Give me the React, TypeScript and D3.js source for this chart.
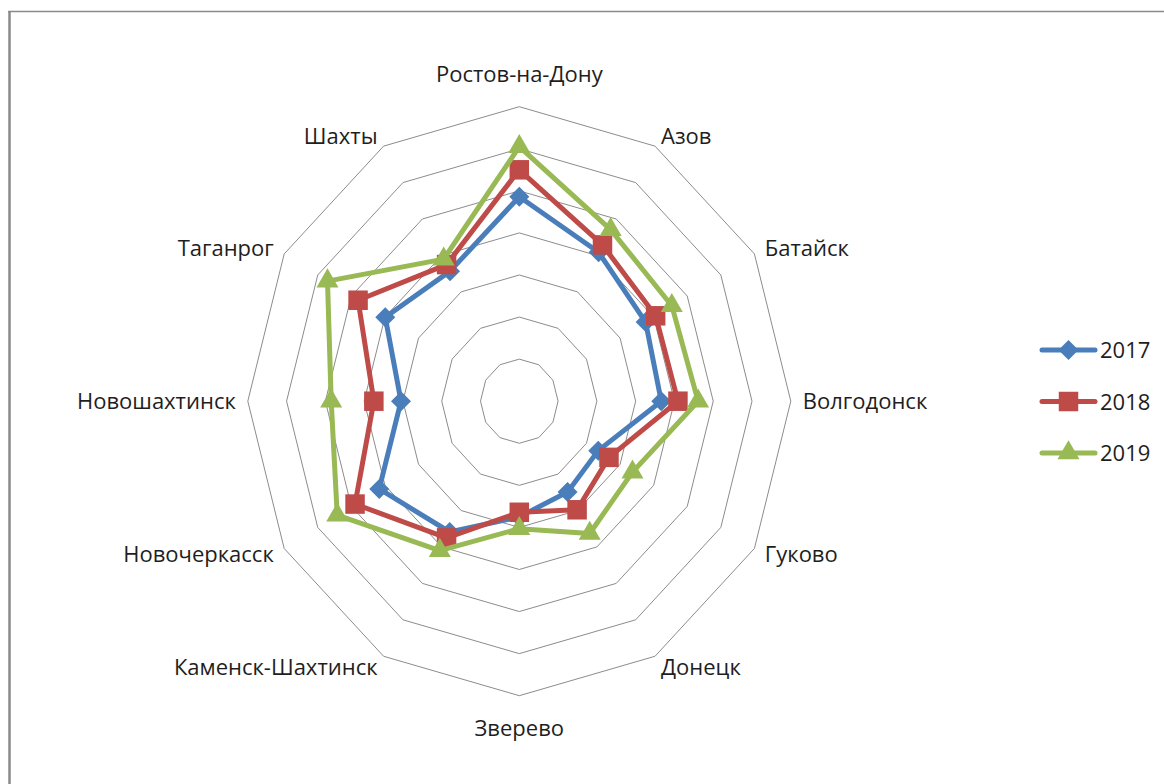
import React, { useEffect, useRef } from 'react';
import * as d3 from 'd3';

// categories (clockwise from top)
const cities = [
	'Ростов-на-Дону',
	'Азов',
	'Батайск',
	'Волгодонск',
	'Гуково',
	'Донецк',
	'Зверево',
	'Каменск-Шахтинск',
	'Новочеркасск',
	'Новошахтинск',
	'Таганрог',
	'Шахты'
];

const years = ['2017', '2018', '2019'];

const values2017 = [4.86, 4.09, 3.76, 3.66, 2.35, 2.49, 2.75, 3.59, 4.17, 3.05, 3.99, 3.57];
const values2018 = [5.5, 4.29, 4.06, 4.09, 2.67, 2.98, 2.64, 3.75, 4.89, 3.75, 4.8, 3.75];
const values2019 = [6.05, 4.71, 4.54, 4.61, 3.37, 3.63, 3.03, 4.1, 5.42, 4.85, 5.71, 3.9];

const ringLevels = [1, 2, 3, 4, 5, 6, 7];

const seriesColors = ['#4A7EBB', '#BE4B48', '#98B954'];

export default function App() {
	const ref = useRef<SVGSVGElement>(null);

	useEffect(() => {
		const svg = d3.select(ref.current);
		svg.selectAll('*').remove();

		const width = 1164;
		const height = 784;
		const cx = 519.3;
		const cy = 401.2;
		const font = "'Open Sans', 'Noto Sans', sans-serif";

		// the picture is a little stretched vertically, so x and y radii differ
		const rx = d3.scaleLinear().domain([0, 7]).range([0, 271.5]);
		const ry = d3.scaleLinear().domain([0, 7]).range([0, 294.5]);
		const angle = d3.scaleLinear().domain([0, cities.length]).range([0, 2 * Math.PI]);

		const px = (i: number, v: number) => cx + Math.sin(angle(i)) * rx(v);
		const py = (i: number, v: number) => cy - Math.cos(angle(i)) * ry(v);

		svg.append('rect').attr('width', width).attr('height', height).attr('fill', '#fff');

		// chart area frame (only top and left edges are visible)
		svg.append('line')
			.attr('x1', 8).attr('x2', width).attr('y1', 11.5).attr('y2', 11.5)
			.attr('stroke', '#8a8a8a').attr('stroke-width', 1.5);
		svg.append('line')
			.attr('x1', 9.5).attr('x2', 9.5).attr('y1', 11).attr('y2', height)
			.attr('stroke', '#8a8a8a').attr('stroke-width', 2.5);

		// grid rings
		const ringLine = d3.line<number>()
			.x((d, i) => px(i, d))
			.y((d, i) => py(i, d))
			.curve(d3.curveLinearClosed);

		svg.append('g')
			.selectAll('path')
			.data(ringLevels)
			.enter()
			.append('path')
			.attr('d', lvl => ringLine(cities.map(() => lvl)))
			.attr('fill', 'none')
			.attr('stroke', '#8c8c8c')
			.attr('stroke-width', 1);

		// category labels
		const labels = svg.append('g')
			.attr('font-family', font)
			.attr('font-size', 22)
			.attr('fill', '#1e1e1e');

		cities.forEach((name, i) => {
			const s = Math.sin(angle(i));
			const c = Math.cos(angle(i));
			const x = px(i, 7) + 12 * s;
			const y = py(i, 7) - 12 * c;
			let anchor = 'middle';
			if (s > 0.01) anchor = 'start';
			if (s < -0.01) anchor = 'end';
			let baseline = y + 8;
			if (c > 0.99) baseline = y - 13;
			if (c < -0.99) baseline = y + 28;
			labels.append('text')
				.attr('x', x)
				.attr('y', baseline)
				.attr('text-anchor', anchor)
				.text(name);
		});

		// series
		const seriesData = [values2017, values2018, values2019];
		const markers = [
			{ type: d3.symbolSquare, size: 200, rotate: 45 },
			{ type: d3.symbolSquare, size: 380, rotate: 0 },
			{ type: d3.symbolTriangle, size: 210, rotate: 0 }
		];

		seriesData.forEach((vals, si) => {
			const g = svg.append('g');
			g.append('path')
				.attr('d', ringLine(vals))
				.attr('fill', 'none')
				.attr('stroke', seriesColors[si])
				.attr('stroke-width', 5)
				.attr('stroke-linejoin', 'round');

			const sym = d3.symbol().type(markers[si].type).size(markers[si].size);
			g.selectAll('path.marker')
				.data(vals)
				.enter()
				.append('path')
				.attr('class', 'marker')
				.attr('d', sym)
				.attr('transform', (d, i) => `translate(${px(i, d)},${py(i, d)}) rotate(${markers[si].rotate})`)
				.attr('fill', seriesColors[si]);
		});

		// legend
		const legendY = d3.scalePoint().domain(years).range([350, 453]);
		const legend = svg.append('g').attr('font-family', font).attr('font-size', 22).attr('fill', '#1e1e1e');
		years.forEach((yr, si) => {
			const y = legendY(yr) as number;
			legend.append('line')
				.attr('x1', 1042).attr('x2', 1095).attr('y1', y).attr('y2', y)
				.attr('stroke', seriesColors[si]).attr('stroke-width', 5).attr('stroke-linecap', 'round');
			legend.append('path')
				.attr('d', d3.symbol().type(markers[si].type).size(markers[si].size)())
				.attr('transform', `translate(1068.5,${y}) rotate(${markers[si].rotate})`)
				.attr('fill', seriesColors[si]);
			legend.append('text')
				.attr('x', 1100)
				.attr('y', y + 8)
				.text(yr);
		});
	}, []);

	return (
		<svg
			ref={ref}
			width={1164}
			height={784}
			style={{ position: 'absolute', left: 0, top: 0 }}
		/>
	);
}
